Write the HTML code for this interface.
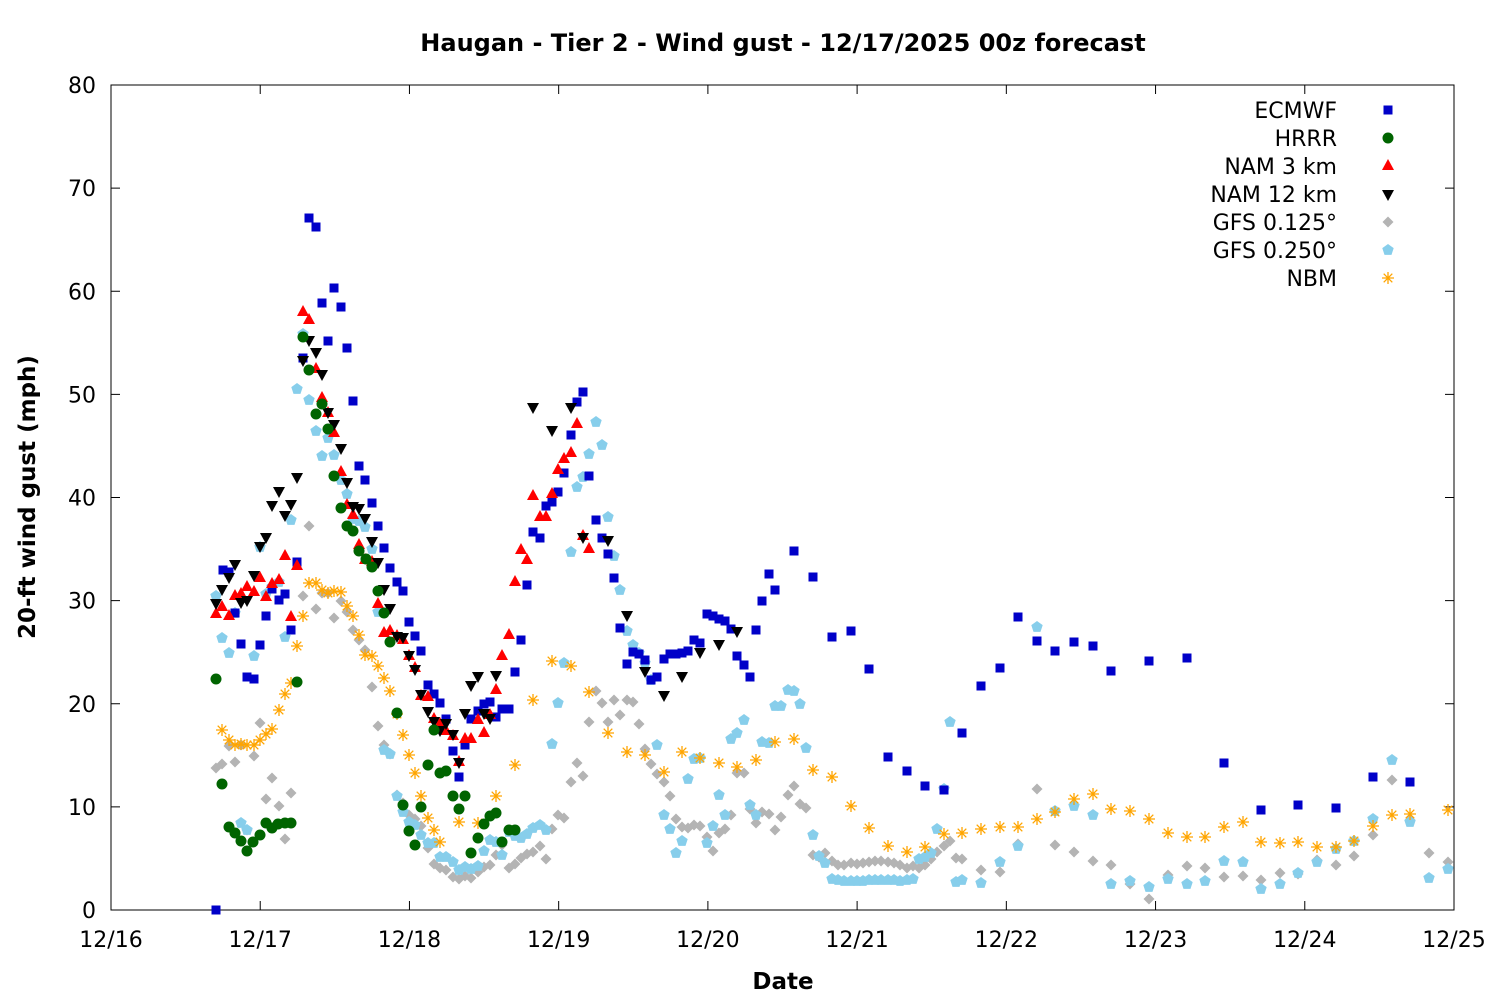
<!DOCTYPE html>
<html><head><meta charset="utf-8"><style>
body{margin:0;background:#fff}
svg text{font-family:"DejaVu Sans","Liberation Sans",sans-serif}
</style></head><body>
<svg id="s" width="1500" height="1000" xmlns="http://www.w3.org/2000/svg">
<rect width="1500" height="1000" fill="#fff"/>
<text x="783" y="51" text-anchor="middle" font-size="24" font-weight="bold">Haugan - Tier 2 - Wind gust - 12/17/2025 00z forecast</text>
<text x="783" y="989" text-anchor="middle" font-size="23" font-weight="bold">Date</text>
<text transform="translate(35,497) rotate(-90)" text-anchor="middle" font-size="23" font-weight="bold">20-ft wind gust (mph)</text>
<g id="ax"></g><g id="pts"></g><g id="leg"></g>
</svg>
<script>
const NS="http://www.w3.org/2000/svg";
function el(p,t,a,txt){const e=document.createElementNS(NS,t);for(const k in a)e.setAttribute(k,a[k]);if(txt!==undefined)e.textContent=txt;p.appendChild(e);return e;}
const ax=document.getElementById('ax'),pts=document.getElementById('pts'),leg=document.getElementById('leg');
const L=111,R=1454,T=85,B=910;
el(ax,'rect',{x:L,y:T,width:R-L,height:B-T,fill:'none',stroke:'#000','stroke-width':1});
for(let i=0;i<=8;i++){const y=B-(B-T)*i/8;
 el(ax,'line',{x1:L,x2:L+9,y1:y,y2:y,stroke:'#000'});el(ax,'line',{x1:R,x2:R-9,y1:y,y2:y,stroke:'#000'});
 el(ax,'text',{x:96,y:y+8,'text-anchor':'end','font-size':22},String(i*10));}
const dl=['12/16','12/17','12/18','12/19','12/20','12/21','12/22','12/23','12/24','12/25'];
for(let i=0;i<=9;i++){const x=L+(R-L)*i/9;
 el(ax,'line',{x1:x,x2:x,y1:B,y2:B-9,stroke:'#000'});el(ax,'line',{x1:x,x2:x,y1:T,y2:T+9,stroke:'#000'});
 el(ax,'text',{x:x,y:947,'text-anchor':'middle','font-size':22},dl[i]);}
function mk(g,type,x,y){
 if(type==0)el(g,'rect',{x:x-4.5,y:y-4.5,width:9,height:9,fill:'#0000c8'});
 else if(type==1)el(g,'circle',{cx:x,cy:y,r:5.5,fill:'#006400'});
 else if(type==2)el(g,'polygon',{points:`${x},${y-7} ${x-6},${y+4} ${x+6},${y+4}`,fill:'#f00'});
 else if(type==3)el(g,'polygon',{points:`${x},${y+7} ${x-6},${y-4} ${x+6},${y-4}`,fill:'#000'});
 else if(type==4)el(g,'polygon',{points:`${x},${y-5.5} ${x+5.5},${y} ${x},${y+5.5} ${x-5.5},${y}`,fill:'#b4b4b4'});
 else if(type==5)el(g,'polygon',{points:`${x},${y-6} ${x+5.7},${y-1.9} ${x+3.5},${y+4.9} ${x-3.5},${y+4.9} ${x-5.7},${y-1.9}`,fill:'#87ceeb'});
 else {const s=6,c='#ffa500';
  el(g,'path',{d:`M${x-s} ${y}H${x+s}M${x} ${y-s}V${y+s}M${x-4.3} ${y-4.3}L${x+4.3} ${y+4.3}M${x-4.3} ${y+4.3}L${x+4.3} ${y-4.3}`,stroke:c,'stroke-width':1.3,fill:'none'});}
}
const D=[
[216,910,223,570,229,572,235,613,241,644,247,677,254,679,260,645,266,616,272,589,279,600,285,594,291,630,297,562,303,358,309,218,316,227,322,303,328,341,334,288,341,307,347,348,353,401,359,466,365,480,372,503,378,526,384,548,390,568,397,582,403,591,409,622,415,636,421,651,428,685,434,694,440,703,446,719,453,751,459,777,465,745,471,719,478,711,484,704,490,702,496,717,502,709,509,709,515,672,521,640,527,585,533,532,540,538,546,506,552,502,558,492,564,473,571,435,577,402,583,392,589,476,596,520,602,538,608,554,614,578,620,628,627,664,633,652,639,654,645,660,651,680,657,677,664,659,670,654,676,654,682,653,688,651,694,640,700,643,707,614,713,616,719,619,725,621,731,629,737,656,744,665,750,677,756,630,762,601,769,574,775,590,794,551,813,577,832,637,851,631,869,669,888,757,907,771,925,786,944,790,962,733,981,686,1000,668,1018,617,1037,641,1055,651,1074,642,1093,646,1111,671,1149,661,1187,658,1224,763,1261,810,1298,805,1336,808,1373,777,1410,782],
[216,679,222,784,229,827,235,833,241,841,247,851,253,842,260,835,266,823,272,828,278,824,285,823,291,823,297,682,303,337,309,370,316,414,322,404,328,429,334,476,341,508,347,526,353,531,359,551,366,559,372,567,378,591,384,613,390,642,397,713,403,805,409,831,415,845,421,807,428,765,434,730,440,773,446,771,453,796,459,809,465,796,471,853,478,838,484,824,490,816,496,813,502,842,509,830,515,830],
[216,614,222,607,229,616,235,596,241,594,247,587,254,592,260,578,266,597,272,584,279,580,285,556,291,617,297,566,303,312,309,320,316,369,322,398,328,413,334,433,341,472,347,505,353,515,359,545,365,560,372,562,378,604,384,633,390,631,397,636,403,640,409,656,415,668,421,696,428,697,434,719,440,724,446,731,453,736,459,762,465,739,471,739,478,720,484,733,490,715,496,690,502,656,509,635,515,582,521,550,527,560,533,496,540,517,546,517,552,494,558,470,564,459,571,453,577,424,583,536,589,549],
[216,603,222,589,229,577,235,564,241,602,247,600,254,575,260,546,266,537,272,505,279,491,285,515,291,504,297,477,303,360,309,340,316,352,322,374,328,412,334,424,341,448,347,482,353,506,359,508,365,518,372,541,378,562,384,589,390,608,397,636,403,637,409,655,415,669,421,694,428,711,434,721,440,730,446,723,453,734,459,762,465,713,471,685,478,676,484,713,490,718,496,675,533,407,552,430,571,407,583,537,608,540,627,615,645,671,664,695,682,676,700,652,719,644,737,631],
[216,768,222,764,229,746,235,762,241,745,247,830,254,756,260,723,266,799,272,778,279,806,285,839,291,793,297,682,303,596,309,526,316,609,322,593,328,593,334,618,341,601,347,612,353,630,359,640,365,650,372,687,378,726,384,745,390,754,397,795,403,803,409,815,415,819,421,826,428,848,434,864,440,868,446,870,453,877,459,879,465,876,471,878,478,872,484,867,490,865,496,855,502,845,509,868,515,864,521,858,527,854,533,852,540,846,546,859,552,829,558,815,564,818,571,782,577,763,583,776,589,722,596,691,602,703,608,722,614,700,620,715,627,700,633,702,639,724,645,749,651,764,657,774,664,782,670,796,676,819,682,827,688,828,694,825,700,826,707,837,713,851,719,833,725,829,731,815,737,773,744,773,750,809,756,823,762,812,769,814,775,830,781,817,788,795,794,786,800,804,806,808,813,855,819,857,825,853,832,861,838,865,844,865,851,863,857,864,863,863,869,862,875,861,881,861,888,862,894,863,900,865,907,868,913,866,919,868,925,865,931,859,937,852,944,846,950,841,956,858,962,859,981,870,1000,872,1018,844,1037,789,1055,845,1074,852,1093,861,1111,865,1130,884,1149,899,1168,875,1187,866,1205,868,1224,877,1243,876,1261,880,1280,873,1298,874,1317,860,1336,865,1354,856,1373,835,1392,780,1410,820,1429,853,1448,862],
[216,596,222,638,229,653,235,613,241,823,247,830,254,656,260,547,266,594,272,587,279,582,285,637,291,520,297,389,303,334,309,400,316,431,322,456,328,438,334,455,341,480,347,494,353,519,359,521,365,527,372,549,378,612,384,750,390,754,397,796,403,812,409,822,415,825,421,835,428,843,434,843,440,857,446,857,453,862,459,870,465,867,471,869,478,866,484,851,490,840,496,842,502,855,509,832,515,836,521,838,527,834,533,828,540,825,546,830,552,744,558,703,564,663,571,552,577,487,583,477,589,454,596,422,602,445,608,517,614,556,620,590,627,631,633,645,639,653,645,663,651,680,657,745,664,815,670,829,676,853,682,841,688,779,694,759,700,758,707,843,713,826,719,795,725,815,731,739,737,733,744,720,750,805,756,815,762,742,769,743,775,706,781,706,788,690,794,691,800,704,806,748,813,835,819,856,825,863,832,879,838,880,844,881,851,881,857,881,863,881,869,880,875,880,881,880,888,880,894,880,900,881,907,880,913,879,919,859,925,857,931,853,937,829,944,789,950,722,956,882,962,880,981,883,1000,862,1018,846,1037,627,1055,811,1074,806,1093,815,1111,884,1130,881,1149,887,1168,879,1187,884,1205,881,1224,861,1243,862,1261,889,1280,884,1298,873,1317,862,1336,849,1354,841,1373,819,1392,760,1410,822,1429,878,1448,869],
[222,730,229,740,235,745,241,744,247,745,254,745,260,740,266,734,272,729,279,710,285,694,291,683,297,646,303,616,309,583,316,583,322,590,328,593,334,591,341,592,347,606,353,616,359,635,365,655,372,656,378,666,384,678,390,691,397,714,403,735,409,755,415,773,421,796,428,818,434,830,440,842,459,822,478,823,496,796,515,765,533,700,552,661,571,666,589,692,608,733,627,752,645,755,664,772,682,752,700,758,719,763,737,767,756,760,775,742,794,739,813,770,832,777,851,806,869,828,888,846,907,852,925,847,944,834,962,833,981,829,1000,827,1018,827,1037,819,1055,812,1074,799,1093,794,1111,809,1130,811,1149,819,1168,833,1187,837,1205,837,1224,827,1243,822,1261,842,1280,843,1298,842,1317,847,1336,847,1354,841,1373,826,1392,815,1410,814,1448,810]
];
const order=[4,5,6,0,2,3,1];
for(const t of order){const a=D[t];for(let i=0;i<a.length;i+=2)mk(pts,t,a[i],a[i+1]);}
const names=['ECMWF','HRRR','NAM 3 km','NAM 12 km','GFS 0.125°','GFS 0.250°','NBM'];
names.forEach((n,i)=>{const y=110+i*28;el(leg,'text',{x:1337,y:y+8,'text-anchor':'end','font-size':22},n);mk(leg,i,1388,y);});
</script>
</body></html>
